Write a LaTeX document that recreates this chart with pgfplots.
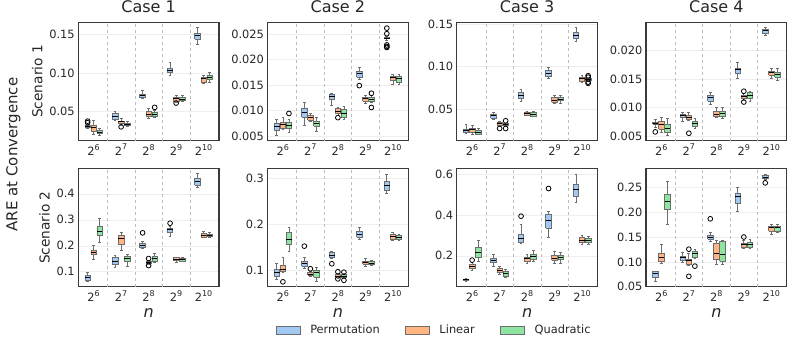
\documentclass[border=0pt]{standalone}
\usepackage{fontspec}
\setmainfont{DejaVu Sans}
\usepackage{pgfplots}
\pgfplotsset{compat=1.18}
\usepgfplotslibrary{groupplots}

\definecolor{permblue}{HTML}{A1C9F4}
\definecolor{linorange}{HTML}{FFB482}
\definecolor{quadgreen}{HTML}{8DE5A1}
\definecolor{boxedge}{HTML}{6E6E6E}
\definecolor{axisframe}{HTML}{3A3A3A}
\definecolor{sepline}{HTML}{BDBDBD}
\definecolor{gridline}{HTML}{EEEEEE}
\definecolor{textgray}{HTML}{262626}

\newcommand{\pw}[1]{2\raisebox{0.45em}{\fontsize{8}{9}\selectfont #1}}

% one box: #1 position, #2 fill, #3 lower whisker, #4 lower quartile,
% #5 median, #6 upper quartile, #7 upper whisker, #8 outliers (0,value)...
\newcommand{\bx}[8]{%
  \pgfmathsetmacro\xbl{#1-0.1}\pgfmathsetmacro\xbr{#1+0.1}%
  \pgfmathsetmacro\xcl{#1-0.05}\pgfmathsetmacro\xcr{#1+0.05}%
  \addplot[draw=boxedge, line width=0.7pt, unbounded coords=jump, forget plot]
    coordinates {(#1,#3)(#1,#4) (#1,nan) (#1,#6)(#1,#7) (#1,nan)
                 (\xcl,#3)(\xcr,#3) (#1,nan) (\xcl,#7)(\xcr,#7)};
  \addplot[draw=boxedge, fill=#2, line width=0.7pt, forget plot]
    coordinates {(\xbl,#4)(\xbr,#4)(\xbr,#6)(\xbl,#6)(\xbl,#4)};
  \addplot[draw=black, line width=1pt, forget plot]
    coordinates {(\xbl,#5)(\xbr,#5)};
  \if\relax\detokenize{#8}\relax\else
  \addplot[only marks, mark=o, mark size=2.4pt, draw=black, line width=0.8pt,
    forget plot, x filter/.expression={#1}] coordinates {#8};
  \fi}
\newcommand{\bp}[7]{\bx{#1}{permblue}{#2}{#3}{#4}{#5}{#6}{#7}}
\newcommand{\bl}[7]{\bx{#1}{linorange}{#2}{#3}{#4}{#5}{#6}{#7}}
\newcommand{\bq}[7]{\bx{#1}{quadgreen}{#2}{#3}{#4}{#5}{#6}{#7}}

\begin{document}
\begin{tikzpicture}
\begin{groupplot}[
  group style={group size=4 by 2, horizontal sep=48.5pt, vertical sep=28pt},
  scale only axis, width=140.8pt, height=118.3pt,
  xmin=-0.56, xmax=4.56,
  xtick={0,1,2,3,4},
  xticklabels={\pw{6},\pw{7},\pw{8},\pw{9},\pw{10}},
  extra x ticks={0.5,1.5,2.5,3.5},
  extra x tick labels={},
  extra x tick style={grid=major, major grid style={draw=sepline, dashed, line width=0.6pt}},
  ymajorgrids,
  scaled y ticks=false,
  major grid style={draw=gridline, line width=0.6pt},
  major tick length=0pt,
  axis line style={draw=axisframe, line width=1.1pt},
  tick label style={font=\fontsize{11.4}{13}\selectfont, text=textgray},
  title style={font=\fontsize{16}{19}\selectfont, text=textgray},
  ylabel style={font=\fontsize{13.7}{16}\selectfont, text=textgray},
  xlabel style={font=\fontsize{16}{19}\selectfont, text=textgray},
]
% ---------- Case 1, Scenario 1
\nextgroupplot[title={Case 1}, ylabel={Scenario 1}, ymin=0.0128, ymax=0.1654,
  ytick={0.05,0.10,0.15}, yticklabels={0.05,0.10,0.15}]
\bp{-0.22}{0.029}{0.030}{0.031}{0.033}{0.034}{(0,0.0358)(0,0.0378)}
\bl{0}{0.021}{0.025}{0.029}{0.033}{0.039}{}
\bq{0.22}{0.020}{0.0225}{0.0235}{0.026}{0.029}{}
\bp{0.78}{0.039}{0.0405}{0.044}{0.048}{0.051}{}
\bl{1}{0.033}{0.035}{0.037}{0.038}{0.042}{(0,0.0305)}
\bq{1.22}{0.031}{0.032}{0.0335}{0.035}{0.037}{}
\bp{1.78}{0.067}{0.068}{0.0705}{0.073}{0.0775}{}
\bl{2}{0.042}{0.0445}{0.047}{0.050}{0.054}{}
\bq{2.22}{0.0425}{0.044}{0.0466}{0.0488}{0.052}{(0,0.0556)}
\bp{2.78}{0.097}{0.1013}{0.1034}{0.1064}{0.1137}{}
\bl{3}{0.0625}{0.064}{0.0665}{0.068}{0.0714}{(0,0.0612)}
\bq{3.22}{0.0628}{0.0645}{0.0662}{0.068}{0.0705}{}
\bp{3.78}{0.1372}{0.144}{0.148}{0.1513}{0.1586}{}
\bl{4}{0.0872}{0.0885}{0.0923}{0.0945}{0.097}{}
\bq{4.22}{0.0885}{0.0915}{0.0944}{0.097}{0.1013}{}
% ---------- Case 2, Scenario 1
\nextgroupplot[title={Case 2}, ymin=0.0041, ymax=0.02735,
  ytick={0.005,0.010,0.015,0.020,0.025}, yticklabels={0.005,0.010,0.015,0.020,0.025}]
\bp{-0.22}{0.0052}{0.0062}{0.00695}{0.0074}{0.0083}{}
\bl{0}{0.0063}{0.00643}{0.0072}{0.0076}{0.0086}{}
\bq{0.22}{0.00565}{0.0065}{0.00715}{0.00775}{0.0083}{(0,0.00943)}
\bp{0.78}{0.0070}{0.0087}{0.0096}{0.0105}{0.01165}{}
\bl{1}{0.0079}{0.0081}{0.0087}{0.0090}{0.0094}{}
\bq{1.22}{0.00585}{0.00695}{0.0074}{0.0079}{0.0087}{}
\bp{1.78}{0.0111}{0.0122}{0.0127}{0.0131}{0.01345}{}
\bl{2}{0.0090}{0.0094}{0.0099}{0.0104}{0.0107}{(0,0.0086)}
\bq{2.22}{0.0083}{0.0086}{0.0094}{0.0102}{0.0109}{}
\bp{2.78}{0.0161}{0.0165}{0.01725}{0.0177}{0.0185}{(0,0.0149)}
\bl{3}{0.0115}{0.0118}{0.0123}{0.0125}{0.0130}{}
\bq{3.22}{0.0116}{0.0118}{0.0122}{0.0126}{0.0129}{(0,0.0106)(0,0.0134)}
\bp{3.78}{0.0238}{0.0241}{0.0242}{0.0244}{0.0246}{(0,0.0262)(0,0.0251)(0,0.0229)(0,0.0226)(0,0.0224)}
\bl{4}{0.0151}{0.0159}{0.0164}{0.0167}{0.0171}{}
\bq{4.22}{0.0152}{0.0156}{0.0163}{0.0167}{0.0172}{}
% ---------- Case 3, Scenario 1
\nextgroupplot[title={Case 3}, ymin=0.0133, ymax=0.1523,
  ytick={0.05,0.10,0.15}, yticklabels={0.05,0.10,0.15}]
\bp{-0.22}{0.0219}{0.0231}{0.025}{0.027}{0.032}{}
\bl{0}{0.0211}{0.0231}{0.0258}{0.0278}{0.0316}{}
\bq{0.22}{0.0203}{0.0211}{0.0231}{0.025}{0.0278}{}
\bp{0.78}{0.0387}{0.0398}{0.0422}{0.0445}{0.0465}{}
\bl{1}{0.030}{0.031}{0.033}{0.0345}{0.036}{(0,0.0275)}
\bq{1.22}{0.030}{0.031}{0.032}{0.0335}{0.034}{(0,0.0365)(0,0.0275)}
\bp{1.78}{0.0594}{0.0633}{0.0664}{0.070}{0.0738}{}
\bl{2}{0.0424}{0.0428}{0.0449}{0.0465}{0.0477}{}
\bq{2.22}{0.0414}{0.0418}{0.0441}{0.0465}{0.0473}{}
\bp{2.78}{0.0867}{0.0883}{0.0922}{0.0961}{0.0992}{}
\bl{3}{0.057}{0.0582}{0.0602}{0.0641}{0.066}{}
\bq{3.22}{0.057}{0.0602}{0.0621}{0.0641}{0.066}{}
\bp{3.78}{0.1297}{0.1336}{0.1363}{0.1402}{0.1469}{}
\bl{4}{0.0816}{0.0824}{0.0859}{0.0875}{0.0902}{}
\bq{4.22}{0.083}{0.0835}{0.0848}{0.0862}{0.0868}{(0,0.0895)(0,0.0878)(0,0.082)(0,0.0805)}
% ---------- Case 4, Scenario 1
\nextgroupplot[title={Case 4}, ymin=0.00424, ymax=0.025,
  ytick={0.005,0.010,0.015,0.020}, yticklabels={0.005,0.010,0.015,0.020}]
\bp{-0.22}{0.0065}{0.0071}{0.0072}{0.0074}{0.0080}{(0,0.00576)}
\bl{0}{0.00564}{0.00622}{0.0071}{0.00767}{0.00837}{}
\bq{0.22}{0.00523}{0.00564}{0.00634}{0.00709}{0.00808}{}
\bp{0.78}{0.00756}{0.00826}{0.00866}{0.0089}{0.00924}{}
\bl{1}{0.00785}{0.00797}{0.00837}{0.00866}{0.00913}{(0,0.00552)}
\bq{1.22}{0.00634}{0.0068}{0.00721}{0.00756}{0.00808}{}
\bp{1.78}{0.01058}{0.01116}{0.01174}{0.01215}{0.01262}{}
\bl{2}{0.00826}{0.00843}{0.00884}{0.00942}{0.01012}{}
\bq{2.22}{0.00808}{0.00843}{0.00895}{0.00942}{0.0100}{}
\bp{2.78}{0.01523}{0.01599}{0.01669}{0.01698}{0.01802}{}
\bl{3}{0.0113}{0.01157}{0.01192}{0.01215}{0.01244}{(0,0.0129)(0,0.0110)}
\bq{3.22}{0.01116}{0.01163}{0.01215}{0.01262}{0.0129}{}
\bp{3.78}{0.02267}{0.02302}{0.02349}{0.02378}{0.02407}{}
\bl{4}{0.01512}{0.0157}{0.01611}{0.0164}{0.01698}{}
\bq{4.22}{0.01483}{0.01535}{0.01581}{0.01622}{0.01698}{}
% ---------- Case 1, Scenario 2
\nextgroupplot[ylabel={Scenario 2}, xlabel={\textit{n}}, ymin=0.0423, ymax=0.4974,
  ytick={0.1,0.2,0.3,0.4}, yticklabels={0.1,0.2,0.3,0.4}]
\bp{-0.22}{0.0615}{0.068}{0.0795}{0.0859}{0.0962}{}
\bl{0}{0.1474}{0.169}{0.1756}{0.182}{0.2013}{}
\bq{0.22}{0.2115}{0.241}{0.2564}{0.2756}{0.305}{}
\bp{0.78}{0.1154}{0.1282}{0.141}{0.1564}{0.164}{}
\bl{1}{0.182}{0.2051}{0.2282}{0.2397}{0.25}{}
\bq{1.22}{0.1218}{0.141}{0.1513}{0.16}{0.1667}{}
\bp{1.78}{0.1897}{0.1923}{0.2013}{0.209}{0.2154}{(0,0.25)}
\bl{2}{0.130}{0.132}{0.137}{0.141}{0.145}{(0,0.151)(0,0.124)}
\bq{2.22}{0.1346}{0.141}{0.1513}{0.16}{0.1692}{}
\bp{2.78}{0.238}{0.253}{0.261}{0.268}{0.275}{(0,0.287)}
\bl{3}{0.1346}{0.1436}{0.1474}{0.1538}{0.1564}{}
\bq{3.22}{0.1385}{0.141}{0.146}{0.15}{0.154}{}
\bp{3.78}{0.4256}{0.4333}{0.4487}{0.459}{0.477}{}
\bl{4}{0.2308}{0.2333}{0.241}{0.2474}{0.2538}{}
\bq{4.22}{0.2308}{0.2346}{0.241}{0.246}{0.25}{}
% ---------- Case 2, Scenario 2
\nextgroupplot[xlabel={\textit{n}}, ymin=0.0638, ymax=0.321,
  ytick={0.1,0.2,0.3}, yticklabels={0.1,0.2,0.3}]
\bp{-0.22}{0.0797}{0.0855}{0.0942}{0.1015}{0.1138}{}
\bl{0}{0.0942}{0.0964}{0.1015}{0.1101}{0.1283}{(0,0.0746)}
\bq{0.22}{0.14}{0.1558}{0.1667}{0.1812}{0.192}{}
\bp{0.78}{0.1036}{0.1087}{0.1145}{0.1196}{0.1268}{(0,0.1522)}
\bl{1}{0.087}{0.089}{0.091}{0.0955}{0.098}{(0,0.103)}
\bq{1.22}{0.076}{0.0848}{0.0942}{0.0993}{0.105}{}
\bp{1.78}{0.1254}{0.1268}{0.1326}{0.1377}{0.14}{(0,0.1138)}
\bl{2}{0.083}{0.084}{0.087}{0.0905}{0.094}{(0,0.0965)(0,0.081)}
\bq{2.22}{0.0819}{0.0848}{0.087}{0.0906}{0.0928}{(0,0.0955)(0,0.078)}
\bp{2.78}{0.1667}{0.1717}{0.1775}{0.1833}{0.192}{}
\bl{3}{0.1087}{0.1123}{0.116}{0.1196}{0.1246}{}
\bq{3.22}{0.1109}{0.1123}{0.1152}{0.1196}{0.121}{}
\bp{3.78}{0.266}{0.2732}{0.2848}{0.2935}{0.3094}{}
\bl{4}{0.1645}{0.1667}{0.1725}{0.1775}{0.1812}{}
\bq{4.22}{0.1645}{0.1667}{0.1717}{0.176}{0.1775}{}
% ---------- Case 3, Scenario 2
\nextgroupplot[xlabel={\textit{n}}, ymin=0.0476, ymax=0.6295,
  ytick={0.2,0.4,0.6}, yticklabels={0.2,0.4,0.6},
  legend style={at={(-0.161,-0.369)}, anchor=center, draw=none, fill=none,
    font=\fontsize{11.4}{13}\selectfont, text=textgray,
    /tikz/every odd column/.append style={column sep=8pt},
    /tikz/every even column/.append style={column sep=23pt}},
  legend columns=3,
  legend image code/.code={\draw[#1, line width=0.7pt] (0pt,-4pt) rectangle (24pt,4.2pt);}]
\addlegendimage{draw=boxedge, fill=permblue}
\addlegendentry{Permutation}
\addlegendimage{draw=boxedge, fill=linorange}
\addlegendentry{Linear}
\addlegendimage{draw=boxedge, fill=quadgreen}
\addlegendentry{Quadratic}
\bp{-0.22}{0.0755}{0.0787}{0.082}{0.0837}{0.0886}{}
\bl{0}{0.128}{0.1378}{0.1492}{0.1574}{0.1657}{(0,0.1787)}
\bq{0.22}{0.1738}{0.1935}{0.2148}{0.2394}{0.2755}{}
\bp{0.78}{0.149}{0.1657}{0.177}{0.187}{0.2066}{}
\bl{1}{0.1083}{0.1165}{0.128}{0.1362}{0.149}{}
\bq{1.22}{0.092}{0.1001}{0.1132}{0.1247}{0.1329}{}
\bp{1.78}{0.2591}{0.264}{0.2853}{0.305}{0.3542}{(0,0.395)}
\bl{2}{0.1607}{0.1738}{0.1853}{0.1935}{0.2066}{}
\bq{2.22}{0.1738}{0.182}{0.1968}{0.2066}{0.2263}{}
\bp{2.78}{0.2919}{0.3345}{0.3738}{0.4033}{0.4197}{(0,0.5312)}
\bl{3}{0.1607}{0.1787}{0.187}{0.2034}{0.2197}{}
\bq{3.22}{0.1623}{0.182}{0.1935}{0.2034}{0.2148}{}
\bp{3.78}{0.4607}{0.4935}{0.5262}{0.5508}{0.6033}{}
\bl{4}{0.2558}{0.264}{0.2755}{0.2886}{0.300}{}
\bq{4.22}{0.2558}{0.264}{0.2755}{0.2853}{0.2968}{}
% ---------- Case 4, Scenario 2
\nextgroupplot[xlabel={\textit{n}}, ymin=0.05, ymax=0.2875,
  ytick={0.05,0.10,0.15,0.20,0.25}, yticklabels={0.05,0.10,0.15,0.20,0.25}]
\bp{-0.22}{0.060}{0.0681}{0.0768}{0.0801}{0.0814}{}
\bl{0}{0.0962}{0.1002}{0.1082}{0.1162}{0.135}{}
\bq{0.22}{0.1764}{0.2052}{0.2219}{0.2353}{0.262}{}
\bp{0.78}{0.0995}{0.1028}{0.1082}{0.1115}{0.1182}{}
\bl{1}{0.094}{0.096}{0.103}{0.106}{0.118}{(0,0.1255)(0,0.071)}
\bq{1.22}{0.1069}{0.1082}{0.1162}{0.1202}{0.1249}{(0,0.0915)}
\bp{1.78}{0.1416}{0.145}{0.1497}{0.1537}{0.1584}{(0,0.1865)}
\bl{2}{0.0948}{0.1048}{0.1162}{0.1363}{0.143}{}
\bq{2.22}{0.0948}{0.1015}{0.1149}{0.1403}{0.143}{}
\bp{2.78}{0.2018}{0.2166}{0.2319}{0.2386}{0.25}{}
\bl{3}{0.127}{0.129}{0.134}{0.138}{0.143}{(0,0.150)}
\bq{3.22}{0.127}{0.1296}{0.135}{0.1383}{0.145}{}
\bp{3.78}{0.2654}{0.2674}{0.2701}{0.2734}{0.2768}{(0,0.2587)}
\bl{4}{0.155}{0.1617}{0.1684}{0.1717}{0.1751}{}
\bq{4.22}{0.1584}{0.1617}{0.1684}{0.1717}{0.1751}{}
\end{groupplot}
\path (group c1r1.south west) -- (group c1r2.north west)
  node[midway, xshift=-65pt, rotate=90, font=\fontsize{15}{18}\selectfont, text=textgray] {ARE at Convergence};
\pgfresetboundingbox
\path[use as bounding box] ([xshift=-78.3pt,yshift=22.3pt]group c1r1.north west)
  rectangle ([xshift=7.3pt,yshift=-55.7pt]group c4r2.south east);
\end{tikzpicture}
\end{document}
